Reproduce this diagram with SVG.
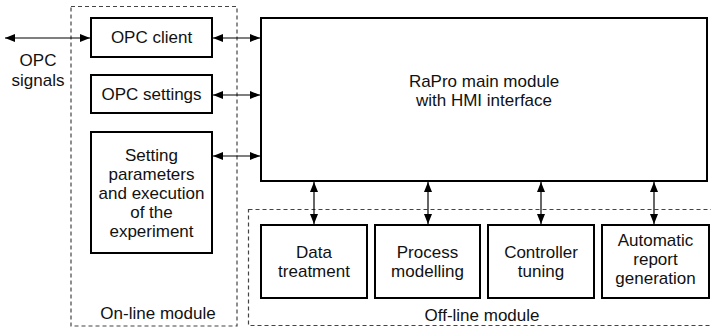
<svg xmlns="http://www.w3.org/2000/svg" width="711" height="329" viewBox="0 0 711 329">
<defs>
<style>
.box{fill:#fff;stroke:#000;stroke-width:2}
.mod{fill:none;stroke:#444;stroke-width:1.2;stroke-dasharray:4 3}
.c{fill:none;stroke:#000;stroke-width:1.2}
text{font-family:"Liberation Sans",Arial,sans-serif;font-size:17px;fill:#111;text-anchor:middle}
</style>
<marker id="ah" viewBox="0 0 10 8" refX="10" refY="4" markerWidth="10" markerHeight="8" markerUnits="userSpaceOnUse" orient="auto-start-reverse">
<path d="M0,0 L10,4 L0,8 z" fill="#000"/>
</marker>
</defs>
<rect width="711" height="329" fill="#fff"/>
<g id="online-module">
<rect class="mod" x="71" y="6.5" width="166" height="319.5"/>
<text x="158" y="319">On-line module</text>
</g>
<g id="offline-module">
<rect class="mod" x="248.5" y="209.5" width="470" height="116"/>
<text x="482" y="321">Off-line module</text>
</g>
<g id="opc-signals">
<text x="38" y="66">OPC</text>
<text x="38" y="86">signals</text>
</g>
<g id="opc-client">
<rect class="box" x="91" y="18" width="121" height="39"/>
<text x="151.5" y="43">OPC client</text>
</g>
<g id="opc-settings">
<rect class="box" x="91" y="75" width="121" height="38"/>
<text x="151.5" y="100">OPC settings</text>
</g>
<g id="setting-parameters">
<rect class="box" x="91" y="132" width="121" height="121"/>
<text x="151.5" y="161">Setting</text>
<text x="151.5" y="180">parameters</text>
<text x="151.5" y="199">and execution</text>
<text x="151.5" y="218">of the</text>
<text x="151.5" y="237">experiment</text>
</g>
<g id="main-module">
<rect class="box" x="261" y="18" width="446" height="163"/>
<text x="484" y="87">RaPro main module</text>
<text x="484" y="106">with HMI interface</text>
</g>
<g id="data-treatment">
<rect class="box" x="261" y="225" width="106" height="73"/>
<text x="314" y="258">Data</text>
<text x="314" y="277">treatment</text>
</g>
<g id="process-modelling">
<rect class="box" x="375" y="225" width="105" height="73"/>
<text x="427.5" y="258">Process</text>
<text x="427.5" y="277">modelling</text>
</g>
<g id="controller-tuning">
<rect class="box" x="488" y="225" width="106" height="73"/>
<text x="541" y="258">Controller</text>
<text x="541" y="277">tuning</text>
</g>
<g id="report-generation">
<rect class="box" x="602" y="225" width="107" height="73"/>
<text x="655.5" y="246">Automatic</text>
<text x="655.5" y="265">report</text>
<text x="655.5" y="284">generation</text>
</g>
<g id="connectors">
<line class="c" x1="5" y1="38" x2="90" y2="38" marker-start="url(#ah)" marker-end="url(#ah)"/>
<line class="c" x1="213" y1="38" x2="260" y2="38" marker-start="url(#ah)" marker-end="url(#ah)"/>
<line class="c" x1="213" y1="95" x2="260" y2="95" marker-start="url(#ah)" marker-end="url(#ah)"/>
<line class="c" x1="213" y1="156" x2="260" y2="156" marker-start="url(#ah)" marker-end="url(#ah)"/>
<line class="c" x1="314" y1="182" x2="314" y2="224" marker-start="url(#ah)" marker-end="url(#ah)"/>
<line class="c" x1="428" y1="182" x2="428" y2="224" marker-start="url(#ah)" marker-end="url(#ah)"/>
<line class="c" x1="541" y1="182" x2="541" y2="224" marker-start="url(#ah)" marker-end="url(#ah)"/>
<line class="c" x1="654" y1="182" x2="654" y2="224" marker-start="url(#ah)" marker-end="url(#ah)"/>
</g>
</svg>
